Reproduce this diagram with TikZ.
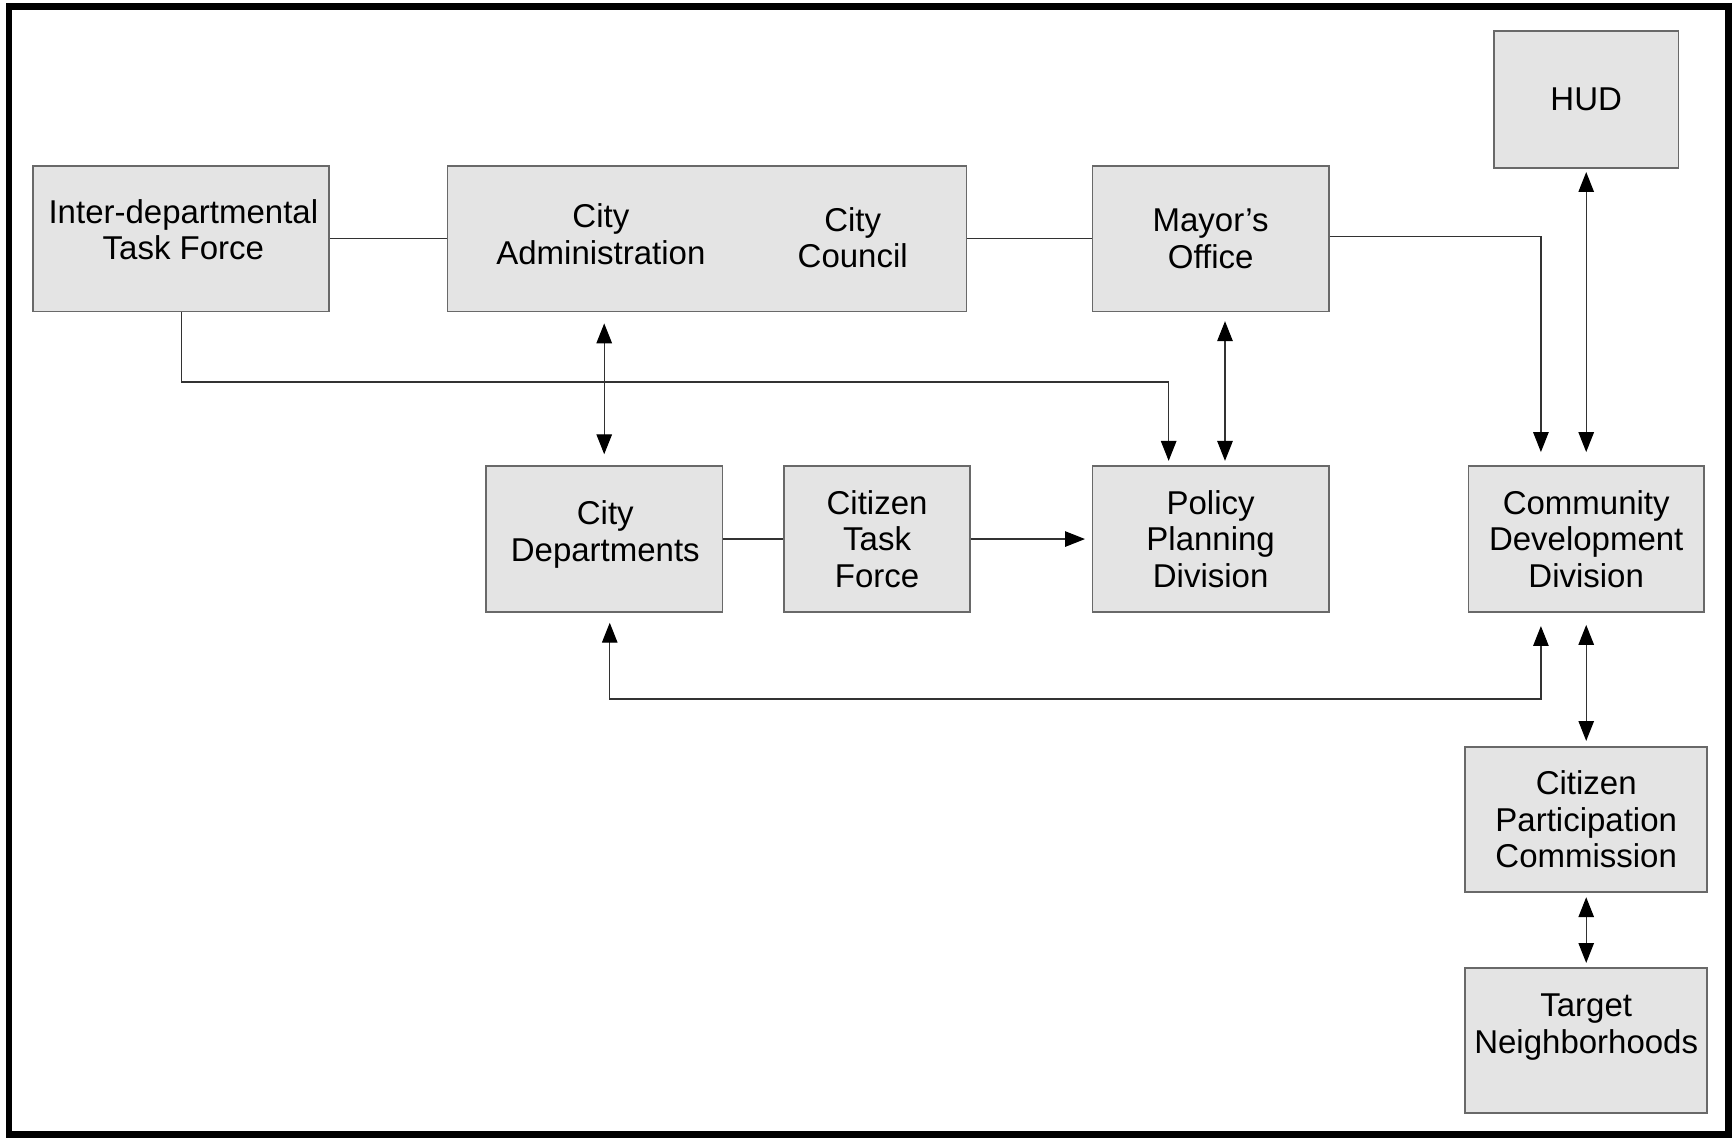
\documentclass[tikz,border=0pt]{standalone}
\usepackage{fontspec}
\setmainfont{Liberation Sans}
\usepackage{tikz}
\definecolor{boxfill}{RGB}{228,228,228}
\definecolor{boxline}{RGB}{105,105,105}
\definecolor{linkgray}{RGB}{50,50,50}
\usetikzlibrary{arrows.meta, positioning, calc}
\newcommand{\orgfont}{\fontsize{17}{18.8}\selectfont}
\tikzset{
    orgbox/.style={draw=boxline, fill=boxfill, align=center, inner sep=0pt, line width=0.9pt, minimum height=2.64cm, font=\orgfont},
    orgtext/.style={align=center, inner sep=0pt, font=\orgfont},
    orgline/.style={line width=0.6pt, draw=linkgray},
    orgarrow/.style={-{Triangle[length=0.36cm, width=0.28cm, color=black]}, line width=0.6pt, draw=linkgray},
    orgbiarrow/.style={{Triangle[length=0.36cm, width=0.28cm, color=black]}-{Triangle[length=0.36cm, width=0.28cm, color=black]}, line width=0.6pt, draw=linkgray}
}

\begin{document}
\begin{tikzpicture}[x=0.02cm, y=-0.02cm]
  \useasboundingbox (0,0) rectangle (1568,1031);
  \draw[line width=0.12cm] (8,6) rectangle (1565,1027);

  \node[orgbox, minimum width=5.36cm] (itf) at (164,216) {};
  \node[orgtext] (itftext) at (166,208) {Inter-departmental\\Task Force};
  \node[orgbox, minimum width=9.4cm] (cac) at (640,216) {};
  \node[orgtext] (cadm) at (544,212) {City\\Administration};
  \node[orgtext] (ccl) at (772,215) {City\\Council};
  \node[orgbox, minimum width=4.28cm] (mo) at (1096,216) {Mayor's\\Office};
  \node[orgbox, minimum width=3.34cm, minimum height=2.48cm] (hud) at (1436,90) {HUD};
  \node[orgbox, minimum width=4.28cm] (cd) at (547,488) {};
  \node[orgtext] (cdtext) at (548,484) {City\\Departments};
  \node[orgbox, minimum width=3.36cm] (ctf) at (794,488) {Citizen\\Task\\Force};
  \node[orgbox, minimum width=4.28cm] (ppd) at (1096,488) {Policy\\Planning\\Division};
  \node[orgbox, minimum width=4.26cm] (cdd) at (1436,488) {Community\\Development\\Division};
  \node[orgbox, minimum width=4.38cm, minimum height=2.62cm] (cpc) at (1436,742) {Citizen\\Participation\\Commission};
  \node[orgbox, minimum width=4.38cm, minimum height=2.62cm] (tn) at (1436,942) {};
  \node[orgtext] (tntext) at (1436,930) {Target\\Neighborhoods};

  \draw[orgline] (itf.east) -- (cac.west);
  \draw[orgline] (cac.east) -- (mo.west);
  \draw[orgline] (cd.east) -- (ctf.west);
  \draw[orgarrow, shorten >=0.12cm] (ctf.east) -- (ppd.west);
  \draw[orgarrow, shorten >=0.24cm] ($(mo.east)+(0,-2)$) -| ($(cdd.north)+(-41,0)$);
  \draw[orgbiarrow, shorten <=0.06cm, shorten >=0.24cm] (hud.south) -- (cdd.north);
  \draw[orgarrow, shorten >=0.08cm] (itf.south) -- ($(itf.south)+(0,63)$) -| ($(ppd.north)+(-38,0)$);
  \draw[orgbiarrow, shorten <=0.2cm, shorten >=0.2cm] (cd.north |- cac.south) -- (cd.north);
  \draw[orgbiarrow, shorten <=0.16cm, shorten >=0.08cm] ($(mo.south)+(13,0)$) -- ($(ppd.north)+(13,0)$);
  \draw[orgbiarrow, shorten <=0.18cm, shorten >=0.24cm] ($(cd.south)+(5,0)$) -- ($(cd.south)+(5,78)$) -| ($(cdd.south)+(-41,0)$);
  \draw[orgbiarrow, shorten <=0.22cm, shorten >=0.1cm] (cdd.south) -- (cpc.north);
  \draw[orgbiarrow, shorten <=0.08cm, shorten >=0.08cm] (cpc.south) -- (tn.north);
\end{tikzpicture}
\end{document}
